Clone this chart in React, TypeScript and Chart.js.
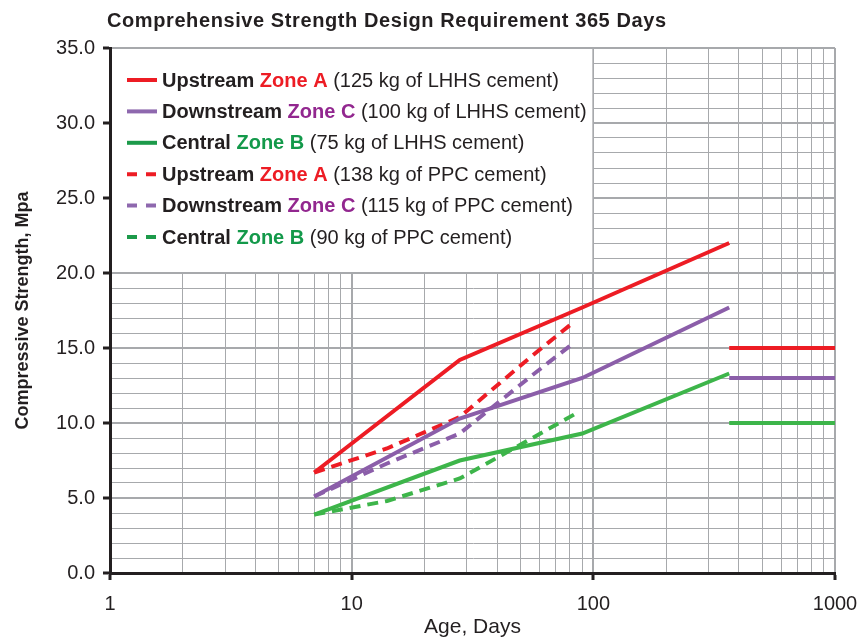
import React, { useEffect, useRef } from 'react';
import { Chart, registerables } from 'chart.js';

Chart.register(...registerables);

// ---- data ----
const ageLHHS = [7, 28, 90, 365];
const upstreamLHHS = [6.7, 14.2, 17.7, 22.0];
const downstreamLHHS = [5.1, 10.3, 13.0, 17.7];
const centralLHHS = [3.9, 7.5, 9.3, 13.3];

const agePPC = [7, 14, 28, 56, 84];
const upstreamPPC = [6.7, 8.3, 10.4, 14.5, 16.8];
const downstreamPPC = [5.1, 7.3, 9.3, 13.2, 15.4];
const centralPPC = [3.9, 4.8, 6.3, 9.0, 10.6];

const ageRequirement = [365, 1000];
const upstreamRequirement = [15, 15];
const downstreamRequirement = [13, 13];
const centralRequirement = [10, 10];

const xTickValues = [1, 2, 3, 4, 5, 6, 7, 8, 9, 10, 20, 30, 40, 50, 60, 70, 80, 90, 100, 200, 300, 400, 500, 600, 700, 800, 900, 1000];
const xMajorTicks = [1, 10, 100, 1000];
const yMajorTicks = [0, 5, 10, 15, 20, 25, 30, 35];

const chartTitle = 'Comprehensive Strength Design Requirement 365 Days';
const xTitle = 'Age, Days';
const yTitle = 'Compressive Strength, Mpa';

const legendNames = ['Upstream', 'Downstream', 'Central', 'Upstream', 'Downstream', 'Central'];
const legendZones = ['Zone A', 'Zone C', 'Zone B', 'Zone A', 'Zone C', 'Zone B'];
const legendDetails = [
  '(125 kg of LHHS cement)',
  '(100 kg of LHHS cement)',
  '(75 kg of LHHS cement)',
  '(138 kg of PPC cement)',
  '(115 kg of PPC cement)',
  '(90 kg of PPC cement)',
];

// ---- styles ----
const RED = '#ED1C24';
const PURPLE = '#8B5EA9';
const GREEN = '#3DB54A';
const LEGEND_LINE = [RED, '#8E68AE', '#1C9A4A', RED, '#8E68AE', '#1C9A4A'];
const ZONE_TEXT = [RED, '#92278F', '#13994A', RED, '#92278F', '#13994A'];
const LEGEND_DASHED = [false, false, false, true, true, true];
const INK = '#231F20';
const GRID = '#A7A9AC';
const FONT = '"Liberation Sans", Arial, Helvetica, sans-serif';

const pairs = (xs: number[], ys: number[]) => xs.map((x, i) => ({ x, y: ys[i] }));

const overlayPlugin = {
  id: 'overlay',
  beforeDatasetsDraw(chart: any) {
    const { ctx, scales } = chart;
    const x = scales.x;
    const y = scales.y;
    const l = x.getPixelForValue(1) + 2;
    const r = x.getPixelForValue(100) - 1;
    const t = y.getPixelForValue(35) + 1;
    const b = y.getPixelForValue(20) - 1;
    ctx.save();
    ctx.fillStyle = '#ffffff';
    ctx.fillRect(l, t, r - l, b - t);
    ctx.restore();
  },
  afterDraw(chart: any) {
    const { ctx, chartArea } = chart;
    ctx.save();
    // title
    ctx.fillStyle = INK;
    ctx.font = `bold 20px ${FONT}`;
    ctx.textBaseline = 'middle';
    ctx.textAlign = 'left';
    const w = ctx.measureText(chartTitle).width;
    const extra = (559 - w) / (chartTitle.length - 1);
    if ('letterSpacing' in ctx && extra > 0) (ctx as any).letterSpacing = `${extra.toFixed(2)}px`;
    ctx.fillText(chartTitle, 107, 21);
    if ('letterSpacing' in ctx) (ctx as any).letterSpacing = '0px';

    // legend
    for (let i = 0; i < legendNames.length; i++) {
      const rowY = chartArea.top + 32 + i * 31.4;
      ctx.beginPath();
      ctx.strokeStyle = LEGEND_LINE[i];
      ctx.lineWidth = 4;
      ctx.setLineDash(LEGEND_DASHED[i] ? [10, 9] : []);
      ctx.moveTo(chartArea.left + 17, rowY);
      ctx.lineTo(chartArea.left + 47, rowY);
      ctx.stroke();
      ctx.setLineDash([]);

      let tx = chartArea.left + 52;
      ctx.textBaseline = 'middle';
      ctx.font = `bold 20px ${FONT}`;
      ctx.fillStyle = INK;
      ctx.fillText(legendNames[i] + ' ', tx, rowY + 1);
      tx += ctx.measureText(legendNames[i] + ' ').width;
      ctx.fillStyle = ZONE_TEXT[i];
      ctx.fillText(legendZones[i] + ' ', tx, rowY + 1);
      tx += ctx.measureText(legendZones[i] + ' ').width;
      ctx.font = `20px ${FONT}`;
      ctx.fillStyle = INK;
      ctx.fillText(legendDetails[i], tx, rowY + 1);
    }
    ctx.restore();
  },
};

export default function App() {
  const canvasRef = useRef<HTMLCanvasElement | null>(null);

  useEffect(() => {
    document.body.style.margin = '0';
    const canvas = canvasRef.current;
    if (!canvas) return;

    const lineDs = (label: string, xs: number[], ys: number[], color: string, dashed: boolean) => ({
      label,
      data: pairs(xs, ys),
      borderColor: color,
      backgroundColor: color,
      borderWidth: 4,
      borderDash: dashed ? [11, 7] : [],
      pointRadius: 0,
      tension: 0,
      fill: false,
    });

    const chart = new Chart(canvas, {
      type: 'line',
      data: {
        datasets: [
          lineDs('Upstream Zone A LHHS', ageLHHS, upstreamLHHS, RED, false),
          lineDs('Downstream Zone C LHHS', ageLHHS, downstreamLHHS, PURPLE, false),
          lineDs('Central Zone B LHHS', ageLHHS, centralLHHS, GREEN, false),
          lineDs('Upstream Zone A PPC', agePPC, upstreamPPC, RED, true),
          lineDs('Downstream Zone C PPC', agePPC, downstreamPPC, PURPLE, true),
          lineDs('Central Zone B PPC', agePPC, centralPPC, GREEN, true),
          lineDs('Upstream requirement', ageRequirement, upstreamRequirement, RED, false),
          lineDs('Downstream requirement', ageRequirement, downstreamRequirement, PURPLE, false),
          lineDs('Central requirement', ageRequirement, centralRequirement, GREEN, false),
        ],
      },
      options: {
        responsive: false,
        animation: false,
        layout: { padding: { top: 48, right: 24, left: 0, bottom: 0 } },
        plugins: {
          legend: { display: false },
          title: { display: false },
          tooltip: { enabled: false },
        },
        scales: {
          x: {
            type: 'logarithmic',
            min: 1,
            max: 1000,
            afterBuildTicks: (scale: any) => {
              scale.ticks = xTickValues.map((v) => ({ value: v, major: xMajorTicks.includes(v) }));
            },
            afterFit: (scale: any) => {
              scale.height = 67;
              scale.paddingLeft = 0;
              scale.paddingRight = 0;
            },
            ticks: {
              autoSkip: false,
              maxRotation: 0,
              padding: 12,
              color: INK,
              font: { family: FONT, size: 20 },
              callback: (v: any) => (xMajorTicks.includes(Number(v)) ? String(v) : ''),
            },
            grid: {
              color: GRID,
              lineWidth: (c: any) => (xMajorTicks.includes(c.tick?.value) ? 2 : 1),
              tickColor: (c: any) => (xMajorTicks.includes(c.tick?.value) ? INK : 'rgba(0,0,0,0)'),
              tickWidth: 3,
              tickLength: 7,
            },
            border: { display: true, color: INK, width: 3 },
            title: {
              display: true,
              text: xTitle,
              color: INK,
              font: { family: FONT, size: 21 },
              padding: { top: 0, bottom: 0 },
            },
          },
          y: {
            type: 'linear',
            min: 0,
            max: 35,
            afterFit: (scale: any) => {
              scale.width = 110;
              scale.paddingTop = 0;
              scale.paddingBottom = 0;
            },
            ticks: {
              stepSize: 1,
              autoSkip: false,
              padding: 8,
              color: INK,
              font: { family: FONT, size: 20 },
              callback: (v: any) => (yMajorTicks.includes(Number(v)) ? Number(v).toFixed(1) : ''),
            },
            grid: {
              color: GRID,
              lineWidth: (c: any) => (yMajorTicks.includes(c.tick?.value) ? 2 : 1),
              tickColor: (c: any) => (yMajorTicks.includes(c.tick?.value) ? INK : 'rgba(0,0,0,0)'),
              tickWidth: 3,
              tickLength: 7,
            },
            border: { display: true, color: INK, width: 3 },
            title: {
              display: true,
              text: yTitle,
              color: INK,
              font: { family: '"Liberation Sans Narrow", "Liberation Sans", Arial, sans-serif', size: 18, weight: 'bold' },
              padding: { top: 12, bottom: 0 },
            },
          },
        },
      },
      plugins: [overlayPlugin],
    } as any);

    return () => chart.destroy();
  }, []);

  return (
    <div style={{ width: 859, height: 640 }}>
      <canvas ref={canvasRef} width={859} height={640} style={{ display: 'block' }} />
    </div>
  );
}
